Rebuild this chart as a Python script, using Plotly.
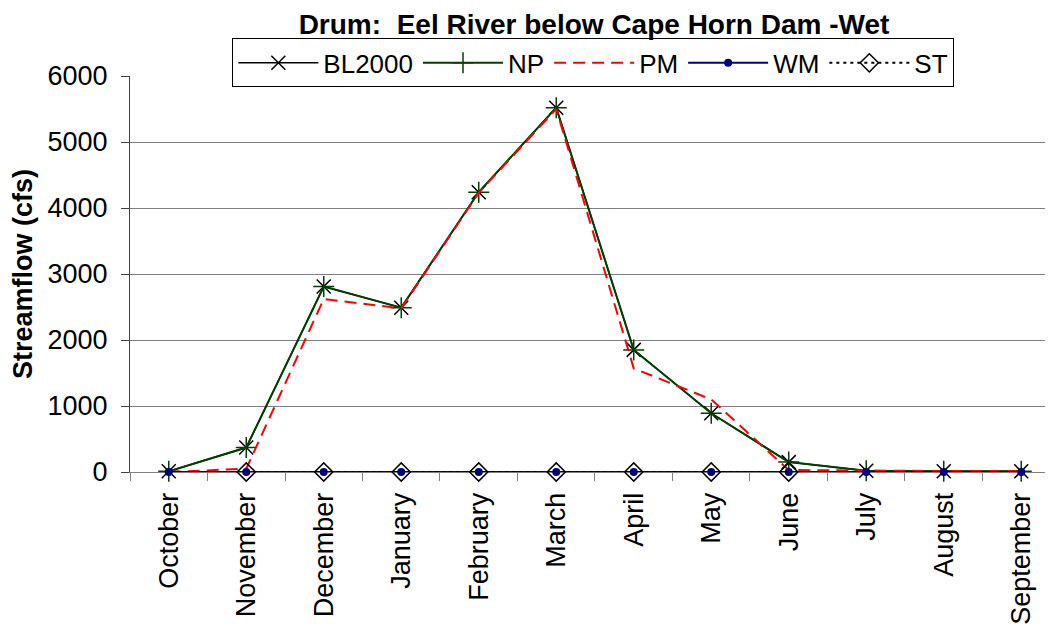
import plotly.graph_objects as go

months = ["October", "November", "December", "January", "February", "March",
          "April", "May", "June", "July", "August", "September"]
bl2000 = [10, 370, 2810, 2490, 4240, 5520, 1850, 890, 150, 20, 10, 10]
np_vals = [10, 370, 2810, 2490, 4240, 5520, 1850, 890, 150, 20, 10, 10]
pm = [0, 50, 2620, 2480, 4230, 5500, 1570, 1100, 30, 20, 15, 15]
wm = [0, 0, 0, 0, 0, 0, 0, 0, 0, 0, 0, 0]
st = [None, 0, 0, 0, 0, 0, 0, 0, 0, None, None, None]

fig = go.Figure()
fig.add_trace(go.Scatter(x=months, y=bl2000, name="BL2000", mode="lines+markers",
                         cliponaxis=False,
                         line=dict(color="black", width=1.5),
                         marker=dict(symbol="x-thin", size=14, line=dict(color="black", width=1.5))))
fig.add_trace(go.Scatter(x=months, y=np_vals, name="NP", mode="lines+markers",
                         cliponaxis=False,
                         line=dict(color="#004000", width=2),
                         marker=dict(symbol="cross-thin", size=15, line=dict(color="#004000", width=1.5))))
fig.add_trace(go.Scatter(x=months, y=pm, name="PM", mode="lines",
                         cliponaxis=False,
                         line=dict(color="#ff0000", width=2, dash="12px,7px")))
fig.add_trace(go.Scatter(x=months, y=wm, name="WM", mode="lines+markers",
                         cliponaxis=False,
                         line=dict(color="#000080", width=2),
                         marker=dict(symbol="circle", size=8, color="#000080")))
fig.add_trace(go.Scatter(x=months, y=st, name="ST", mode="lines+markers",
                         cliponaxis=False,
                         line=dict(color="black", width=2, dash="3px,4px"),
                         marker=dict(symbol="diamond", size=14, color="rgba(0,0,0,0)",
                                     line=dict(color="black", width=1.5))))

fig.update_layout(
    width=1045, height=621,
    paper_bgcolor="white", plot_bgcolor="white",
    margin=dict(l=122, r=0, t=68, b=157),
    font=dict(family="Arial, Liberation Sans, sans-serif", size=27, color="black"),
    title=dict(text="<b>Drum:  Eel River below Cape Horn Dam -Wet</b>",
               x=586 / 1045, xanchor="center", y=0.990, yanchor="top",
               pad=dict(t=0, b=0), font=dict(size=28)),
    showlegend=True,
    legend=dict(orientation="h", x=0.502, xanchor="center", y=1.033, yanchor="middle",
                bordercolor="black", borderwidth=1, bgcolor="white",
                font=dict(size=26), itemwidth=80, tracegroupgap=0),
    xaxis=dict(range=[-0.5, 11.41], tickangle=-90, showgrid=False,
               showline=True, linecolor="#808080", linewidth=1, layer="below traces",
               ticks="outside", tickson="boundaries", ticklen=8, tickcolor="#808080",
               ticklabelstandoff=9, tickfont=dict(size=27)),
    yaxis=dict(range=[0, 6000], dtick=1000, showgrid=True, gridcolor="#808080", gridwidth=1,
               showline=True, linecolor="#404040", linewidth=1, zeroline=False,
               layer="below traces",
               ticks="outside", ticklen=8, tickcolor="#404040",
               ticklabelstandoff=8, tickfont=dict(size=27),
               title=dict(text="<b>Streamflow (cfs)</b>", font=dict(size=27), standoff=18)),
)

fig.write_html("out.html")
